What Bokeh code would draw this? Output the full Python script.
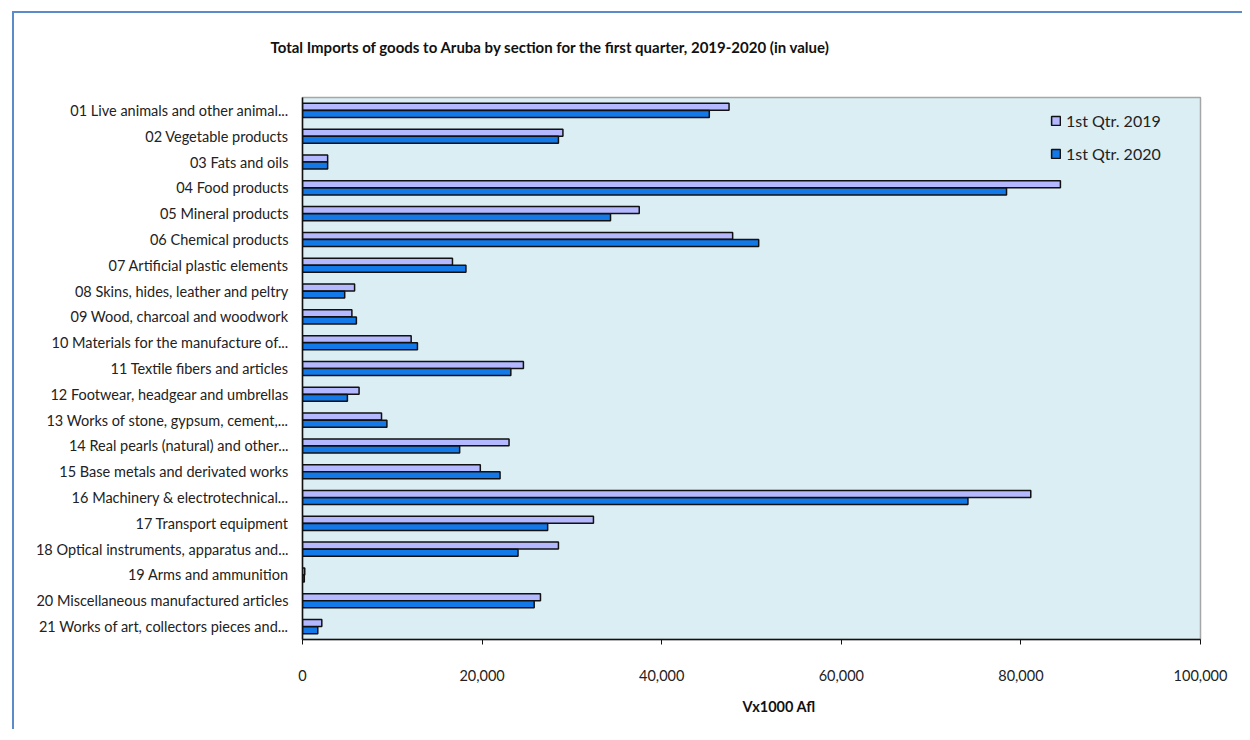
from bokeh.plotting import figure
from bokeh.models import (ColumnDataSource, FactorRange, Range1d, FixedTicker,
                          NumeralTickFormatter, Legend, LegendItem, Title)
from bokeh.transform import dodge
from bokeh.embed import file_html
from bokeh.resources import INLINE

categories = [
    "01 Live animals and other animal...",
    "02 Vegetable products",
    "03 Fats and oils",
    "04 Food products",
    "05 Mineral products",
    "06 Chemical products",
    "07 Artificial plastic elements",
    "08 Skins, hides, leather and peltry",
    "09 Wood, charcoal and woodwork",
    "10 Materials for the manufacture of...",
    "11 Textile fibers and articles",
    "12 Footwear, headgear and umbrellas",
    "13 Works of stone, gypsum, cement,...",
    "14 Real pearls (natural) and other...",
    "15 Base metals and derivated works",
    "16 Machinery & electrotechnical...",
    "17 Transport equipment",
    "18 Optical instruments, apparatus and...",
    "19 Arms and ammunition",
    "20 Miscellaneous manufactured articles",
    "21 Works of art, collectors pieces and...",
]
q1_2019 = [47500, 29000, 2800, 84400, 37500, 47900, 16700, 5800, 5500, 12100, 24600,
           6300, 8800, 23000, 19800, 81100, 32400, 28500, 250, 26500, 2150]
q1_2020 = [45300, 28500, 2800, 78400, 34300, 50800, 18200, 4700, 6000, 12800, 23200,
           5000, 9400, 17500, 22000, 74100, 27300, 24000, 200, 25800, 1700]
series_names = ["1st Qtr. 2019", "1st Qtr. 2020"]
x_ticks = [0, 20000, 40000, 60000, 80000, 100000]

TITLE = "Total Imports of goods to Aruba by section for the first quarter, 2019-2020 (in value)"
XLABEL = "Vx1000 Afl"
FONT = "Lato"
FRAME_BLUE = "#5B8BC9"

src = ColumnDataSource(dict(cat=categories, a=q1_2019, b=q1_2020))

p = figure(width=1230, height=736, output_backend="svg", toolbar_location=None,
           y_range=FactorRange(factors=list(reversed(categories)), range_padding=0),
           x_range=Range1d(0, 100000),
           min_border_left=290, min_border_right=42, min_border_top=104, min_border_bottom=90,
           styles={"margin-left": "12px", "margin-top": "-7px",
                   "background-image": f"linear-gradient({FRAME_BLUE},{FRAME_BLUE}), "
                                       f"linear-gradient({FRAME_BLUE},{FRAME_BLUE})",
                   "background-size": "100% 2px, 2px 100%",
                   "background-position": "0px 18px, 0px 18px",
                   "background-repeat": "no-repeat"})
p.background_fill_color = "#DAEEF3"
p.border_fill_alpha = 0
p.outline_line_color = "#A6A6A6"
p.outline_line_width = 1.5
p.xgrid.visible = False
p.ygrid.visible = False

p.title.text = TITLE
p.title.align = "left"
p.title.offset = -32
p.title.standoff = 84
p.title.text_font = FONT
p.title.text_font_size = "15px"
p.title.text_font_style = "bold"
p.title.text_color = "#111111"

r1 = p.hbar(y=dodge("cat", 0.138, range=p.y_range), right="a", height=0.27, source=src,
            fill_color="#B4B9FF", line_color="#111111", line_width=1.5)
r2 = p.hbar(y=dodge("cat", -0.138, range=p.y_range), right="b", height=0.27, source=src,
            fill_color="#1479E8", line_color="#111111", line_width=1.5)

xa = p.xaxis[0]
xa.ticker = FixedTicker(ticks=x_ticks)
xa.formatter = NumeralTickFormatter(format="0,0")
xa.minor_tick_line_color = None
xa.major_tick_in = 0
xa.major_tick_out = 5
xa.major_tick_line_color = "#111111"
xa.axis_line_color = "#111111"
xa.axis_line_width = 1.5
xa.major_label_standoff = 25
xa.major_label_text_font = FONT
xa.major_label_text_font_size = "14.5px"
xa.major_label_text_color = "#222222"

ya = p.yaxis[0]
ya.major_tick_line_color = None
ya.minor_tick_line_color = None
ya.axis_line_color = "#111111"
ya.axis_line_width = 1.5
ya.major_label_standoff = 8
ya.major_label_text_font = FONT
ya.major_label_text_font_size = "14.5px"
ya.major_label_text_color = "#222222"

p.add_layout(Title(text=XLABEL, align="left", offset=440, standoff=24,
                   text_font=FONT, text_font_size="14.5px", text_font_style="bold",
                   text_color="#111111"), "below")

legend = Legend(items=[LegendItem(label=series_names[0], renderers=[r1]),
                       LegendItem(label=series_names[1], renderers=[r2])],
                location=(748, 476), orientation="vertical",
                glyph_width=11, glyph_height=11, label_height=20, label_standoff=5,
                spacing=13, padding=0, margin=0,
                border_line_color=None, background_fill_alpha=0,
                label_text_font=FONT, label_text_font_size="16px",
                label_text_color="#222222")
p.add_layout(legend)

open("out.html", "w").write(file_html(p, INLINE))
